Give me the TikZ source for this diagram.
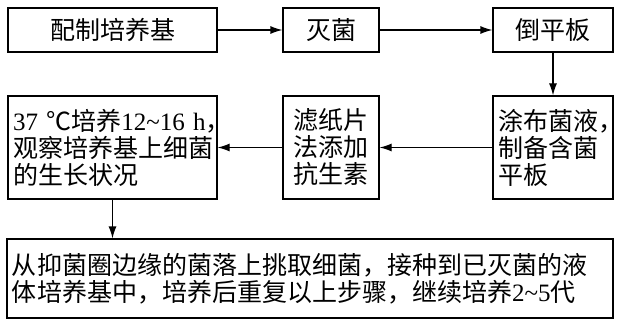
\documentclass[tikz,border=0pt]{standalone}
\usepackage{fontspec}
\setmainfont{Liberation Serif}
\newfontfamily\cjk{Noto Sans CJK SC}
\usepackage{tikz}
\usetikzlibrary{arrows.meta}
\tikzset{
  kutu/.style={draw,line width=1.2pt,inner xsep=5pt,inner ysep=2pt,
    font=\cjk\fontsize{25}{27}\selectfont},
  ok/.style={-{Latex[length=12pt,width=8pt]},line width=1.2pt}
}
\newcommand\virgul{\makebox[0.4em][l]{，}}

\begin{document}
\begin{tikzpicture}[x=1pt,y=-1pt]
\useasboundingbox (0,0) rectangle (617,323);
% ust sira
\node[kutu,minimum width=209pt,minimum height=44pt] (hazirla) at (112.5,30) {配制培养基};
\node[kutu,minimum width=96pt,minimum height=44pt] (steril) at (331,30) {灭菌};
\node[kutu,minimum width=120pt,minimum height=44pt] (plak) at (553,30) {倒平板};
% orta sira
\node[kutu,text width=110pt,align=left,minimum height=103pt] (yayma) at (553,147.5)
  {涂布菌液\virgul\\制备含菌\\平板};
\node[kutu,text width=86pt,align=center,minimum height=103pt] (disk) at (331,147.5)
  {滤纸片\\法添加\\抗生素};
\node[kutu,text width=199pt,align=left,minimum height=103pt] (gozlem) at (112.5,147.5)
  {\mbox{\textrm{37 }℃培养\textrm{12\textasciitilde16\nobreakspace h}\virgul}\\观察培养基上细菌\\的生长状况};
% alt kutu
\node[kutu,text width=596pt,align=left,minimum height=79pt] (tekrar) at (310,278.5)
  {从抑菌圈边缘的菌落上挑取细菌，接种到已灭菌的液\\体培养基中，培养后重复以上步骤，继续培养\textrm{2\textasciitilde5}代};
% oklar
\draw[ok] (hazirla) -- (steril);
\draw[ok] (steril) -- (plak);
\draw[ok] (plak) -- (yayma);
\draw[ok] (yayma) -- (disk);
\draw[ok] (disk) -- (gozlem);
\draw[ok] (gozlem.south) -- (gozlem.south |- tekrar.north);
\end{tikzpicture}
\end{document}
